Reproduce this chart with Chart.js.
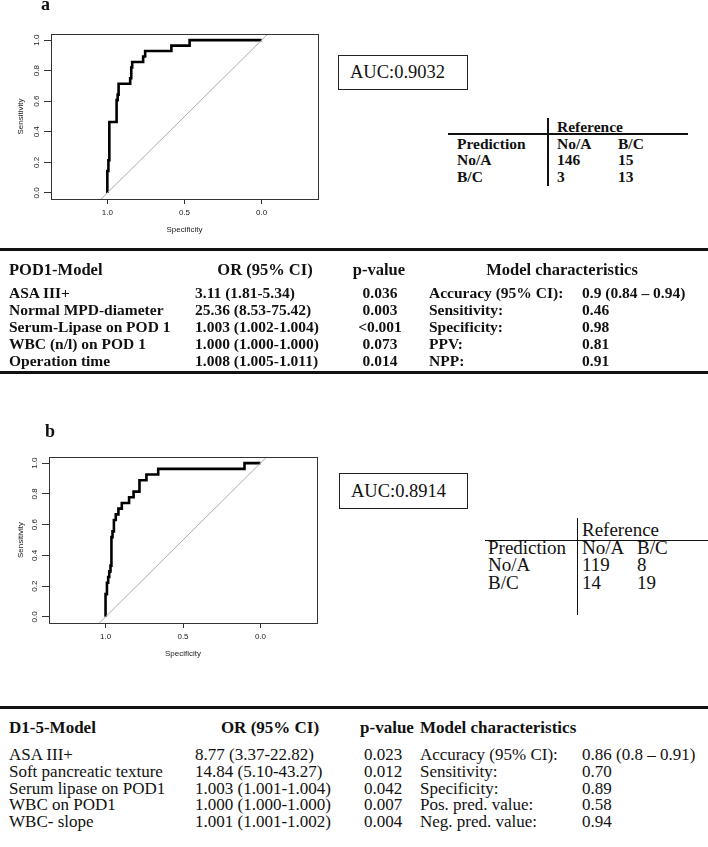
<!DOCTYPE html>
<html>
<head>
<meta charset="utf-8">
<script src="https://cdn.jsdelivr.net/npm/chart.js@4.4.1/dist/chart.umd.min.js"></script>
<style>
  html, body { margin: 0; padding: 0; background: #fff; }
  #page { position: relative; width: 708px; height: 847px; overflow: hidden; color: #111; }
  #page canvas { position: absolute; left: 0; }
  .t { position: absolute; white-space: nowrap; font-family: "Liberation Serif", "Times New Roman", serif; }
  .panel { font-weight: bold; font-size: 18px; }
  .auc { font-size: 18.5px; border: 1px solid #222; box-sizing: border-box; padding-left: 11px; }
  .ca { font-weight: bold; font-size: 15.5px; }
  .cb { font-size: 19px; }
  .tah { font-weight: bold; font-size: 16.5px; }
  .ta { font-weight: bold; font-size: 15.5px; }
  .tbh { font-weight: bold; font-size: 17px; }
  .tb { font-size: 17px; }
  .rule { position: absolute; background: #111; }
</style>
</head>
<body>
<div id="page">
  <canvas id="rocA" width="330" height="240" style="top:0px"></canvas>
  <canvas id="rocB" width="330" height="242" style="top:422px"></canvas>
</div>
<script>
// ROC points (specificity, sensitivity), panel a: POD1-Model
const specA = [1, 1, 0.993, 0.987, 0.94, 0.933, 0.927, 0.852, 0.845, 0.839, 0.768, 0.755, 0.585, 0.467, 0];
const sensA = [0, 0.143, 0.214, 0.464, 0.607, 0.643, 0.714, 0.75, 0.821, 0.857, 0.893, 0.929, 0.964, 1, 1];

// panel b: D1-5-Model
const specB = [1, 1, 0.991, 0.983, 0.976, 0.968, 0.962, 0.955, 0.946, 0.934, 0.917, 0.895, 0.848, 0.819, 0.781, 0.736, 0.66, 0.103, 0];
const sensB = [0, 0.148, 0.222, 0.259, 0.296, 0.333, 0.519, 0.556, 0.63, 0.667, 0.704, 0.741, 0.778, 0.815, 0.889, 0.926, 0.963, 1, 1];

// chance diagonal, runs corner to corner of the box
const chanceSpec = [1.04, -0.04];
const chanceSens = [-0.04, 1.04];

const xTicks = [0, 0.5, 1];
const yTicks = [0, 0.2, 0.4, 0.6, 0.8, 1];

const aucA = 'AUC:0.9032';
const aucB = 'AUC:0.8914';

// confusion matrices
const classes = ['No/A', 'B/C'];
const confA = [[146, 15], [3, 13]];
const confB = [[119, 8], [14, 19]];

// POD1 model table
const podHead = ['POD1-Model', 'OR (95% CI)', 'p-value', 'Model characteristics'];
const podVars = ['ASA III+', 'Normal MPD-diameter', 'Serum-Lipase on POD 1', 'WBC (n/l) on POD 1', 'Operation time'];
const podOR = ['3.11 (1.81-5.34)', '25.36 (8.53-75.42)', '1.003 (1.002-1.004)', '1.000 (1.000-1.000)', '1.008 (1.005-1.011)'];
const podP = ['0.036', '0.003', '<0.001', '0.073', '0.014'];
const podStat = ['Accuracy (95% CI):', 'Sensitivity:', 'Specificity:', 'PPV:', 'NPP:'];
const podVal = ['0.9 (0.84 \u2013 0.94)', '0.46', '0.98', '0.81', '0.91'];

// D1-5 model table
const d15Head = ['D1-5-Model', 'OR (95% CI)', 'p-value', 'Model characteristics'];
const d15Vars = ['ASA III+', 'Soft pancreatic texture', 'Serum lipase on POD1', 'WBC on POD1', 'WBC- slope'];
const d15OR = ['8.77 (3.37-22.82)', '14.84 (5.10-43.27)', '1.003 (1.001-1.004)', '1.000 (1.000-1.000)', '1.001 (1.001-1.002)'];
const d15P = ['0.023', '0.012', '0.042', '0.007', '0.004'];
const d15Stat = ['Accuracy (95% CI):', 'Sensitivity:', 'Specificity:', 'Pos. pred. value:', 'Neg. pred. value:'];
const d15Val = ['0.86 (0.8 \u2013 0.91)', '0.70', '0.89', '0.58', '0.94'];

const sansFont = '"Liberation Sans", Arial, sans-serif';

// box round the plot and R style vertical y tick labels
const rocFrame = {
  id: 'rocFrame',
  afterDraw(chart) {
    const ctx = chart.ctx;
    const a = chart.chartArea;
    const y = chart.scales.y;
    ctx.save();
    ctx.strokeStyle = '#333';
    ctx.lineWidth = 1;
    ctx.strokeRect(Math.round(a.left) + 0.5, Math.round(a.top) + 0.5,
      Math.round(a.right - a.left), Math.round(a.bottom - a.top));
    ctx.fillStyle = '#222';
    ctx.font = '8px ' + sansFont;
    ctx.textAlign = 'center';
    ctx.textBaseline = 'middle';
    yTicks.forEach(v => {
      ctx.save();
      ctx.translate(a.left - 14.5, y.getPixelForValue(v));
      ctx.rotate(-Math.PI / 2);
      ctx.fillText(v.toFixed(1), 0, 0);
      ctx.restore();
    });
    ctx.restore();
  }
};

function makeRoc(id, spec, sens, g) {
  const pts = spec.map((s, i) => ({ x: s, y: sens[i] }));
  const diag = chanceSpec.map((s, i) => ({ x: s, y: chanceSens[i] }));
  const canvas = document.getElementById(id);
  return new Chart(canvas.getContext('2d'), {
    type: 'scatter',
    data: {
      datasets: [
        { data: diag, showLine: true, borderColor: '#aaa', borderWidth: 1, pointRadius: 0 },
        { data: pts, showLine: true, stepped: 'before', borderColor: '#000', borderWidth: 2.6, pointRadius: 0 }
      ]
    },
    options: {
      responsive: false,
      animation: false,
      events: [],
      layout: { padding: { top: g.top, right: canvas.width - g.right, left: 0, bottom: 0 } },
      plugins: { legend: { display: false }, tooltip: { enabled: false } },
      scales: {
        x: {
          type: 'linear',
          reverse: true,
          min: -0.365,
          max: 1.365,
          afterBuildTicks: s => { s.ticks = xTicks.map(v => ({ value: v })); },
          afterFit: s => { s.height = canvas.height - g.bottom; },
          border: { display: false },
          grid: { drawOnChartArea: false, color: '#333', tickLength: 5 },
          ticks: { padding: 4, color: '#222', font: { family: sansFont, size: 8 }, callback: v => Number(v).toFixed(1) },
          title: { display: true, text: 'Specificity', color: '#222', font: { family: sansFont, size: 8 }, padding: { top: 0, bottom: 5 } }
        },
        y: {
          type: 'linear',
          min: -0.04,
          max: 1.04,
          afterBuildTicks: s => { s.ticks = yTicks.map(v => ({ value: v })); },
          afterFit: s => { s.width = g.left; },
          border: { display: false },
          grid: { drawOnChartArea: false, color: '#333', tickLength: 7 },
          ticks: { display: false },
          title: { display: true, text: 'Sensitivity', color: '#222', font: { family: sansFont, size: 8 }, padding: { top: 16, bottom: 0 } }
        }
      }
    },
    plugins: [rocFrame]
  });
}

makeRoc('rocA', specA, sensA, { left: 51, right: 318, top: 34, bottom: 199 });
makeRoc('rocB', specB, sensB, { left: 49, right: 317, top: 35, bottom: 201 });

// text helpers
const page = document.getElementById('page');
function place(text, x, cy, cls, lh, center) {
  const d = document.createElement('div');
  d.className = 't ' + cls;
  d.textContent = text;
  d.style.left = x + 'px';
  d.style.top = (cy - lh / 2) + 'px';
  d.style.lineHeight = lh + 'px';
  if (center) d.style.transform = 'translateX(-50%)';
  page.appendChild(d);
  return d;
}
function rule(x, y, w, h) {
  const d = document.createElement('div');
  d.className = 'rule';
  d.style.left = x + 'px'; d.style.top = y + 'px';
  d.style.width = w + 'px'; d.style.height = h + 'px';
  page.appendChild(d);
}

// panel letters
place('a', 41, 4, 'panel', 20);
place('b', 45, 431, 'panel', 20);

// AUC boxes
const boxA = place(aucA, 338, 71.5, 'auc', 33);
boxA.style.width = '130px'; boxA.style.height = '35px';
const boxB = place(aucB, 339, 490, 'auc', 34);
boxB.style.width = '129px'; boxB.style.height = '36px';

// confusion matrices
function confusion(m, g, cls) {
  place('Reference', g.c1, g.y0, cls, 18);
  place('Prediction', g.lx, g.y0 + g.dy, cls, 18);
  place(classes[0], g.c1, g.y0 + g.dy, cls, 18);
  place(classes[1], g.c2, g.y0 + g.dy, cls, 18);
  m.forEach((row, i) => {
    const cy = g.y0 + g.dy * (i + 2);
    place(classes[i], g.lx, cy, cls, 18);
    place(String(row[0]), g.c1, cy, cls, 18);
    place(String(row[1]), g.c2, cy, cls, 18);
  });
  rule(g.rx, g.ry, g.rw, g.rh);
  rule(g.vx, g.vy, g.vw, g.vh);
}
confusion(confA, { lx: 457, c1: 557, c2: 618, y0: 127, dy: 16.7, rx: 448, ry: 133, rw: 240, rh: 2, vx: 547, vy: 118, vw: 1.5, vh: 68 }, 'ca');
confusion(confB, { lx: 488, c1: 582, c2: 637, y0: 530, dy: 17.5, rx: 485, ry: 540, rw: 223, rh: 1.3, vx: 577, vy: 518, vw: 1.3, vh: 97 }, 'cb');

// regression tables
function modelTable(head, vars, or, p, stat, val, g) {
  place(head[0], g.x[0], g.hy, g.hc, 20);
  place(head[1], g.hx[1], g.hy, g.hc, 20, true);
  place(head[2], g.hx[2], g.hy, g.hc, 20, true);
  place(head[3], g.hx[3], g.hy, g.hc, 20, g.hcenter);
  vars.forEach((v, i) => {
    const cy = g.y0 + g.dy * i;
    place(v, g.x[0], cy, g.bc, 20);
    place(or[i], g.x[1], cy, g.bc, 20);
    place(p[i], g.x[2], cy, g.bc, 20, g.pcenter);
    place(stat[i], g.x[3], cy, g.bc, 20);
    place(val[i], g.x[4], cy, g.bc, 20);
  });
}
modelTable(podHead, podVars, podOR, podP, podStat, podVal, {
  x: [9, 195, 380, 429, 582], hx: [9, 265, 379, 562], hy: 270, y0: 293, dy: 17.1,
  hc: 'tah', bc: 'ta', hcenter: true, pcenter: true
});
rule(0, 248, 708, 2.5);
rule(0, 371, 708, 2.5);

modelTable(d15Head, d15Vars, d15OR, d15P, d15Stat, d15Val, {
  x: [9, 195, 364, 420, 582], hx: [9, 270, 387, 420], hy: 728, y0: 755, dy: 16.75,
  hc: 'tbh', bc: 'tb', hcenter: false, pcenter: false
});
rule(0, 706, 708, 2.5);
</script>
</body>
</html>
